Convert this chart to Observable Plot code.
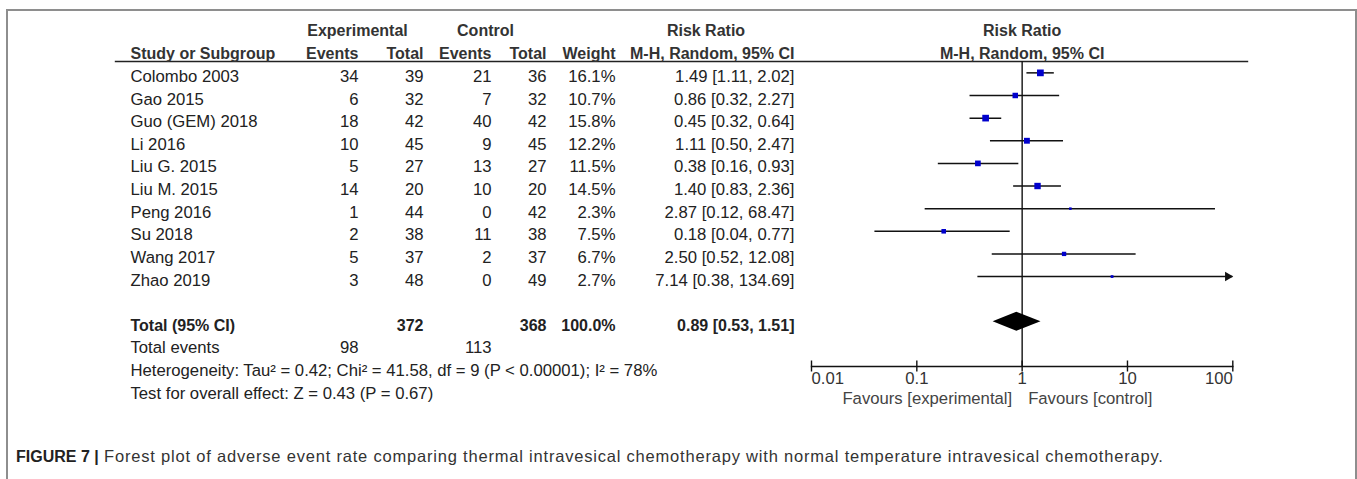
<!DOCTYPE html>
<html>
<head>
<meta charset="utf-8">
<script src="https://cdn.jsdelivr.net/npm/d3@7"></script>
<script src="https://cdn.jsdelivr.net/npm/@observablehq/plot@0.6"></script>
<style>
  html, body { margin: 0; padding: 0; background: #fff; width: 1357px; height: 479px; overflow: hidden; position: relative; font-family: "Liberation Sans", Arial, sans-serif; }
  #chart { position: absolute; left: 0; top: 0; }
  #box { position: absolute; left: 6px; top: 9px; width: 1351px; height: 520px; border: 2px solid #8e8e8e; box-sizing: border-box; z-index: 2; pointer-events: none; }
  #caption { position: absolute; left: 16px; top: 447px; font-size: 16.5px; color: #333; white-space: nowrap; font-family: "Liberation Sans", Arial, sans-serif; letter-spacing: 0.8px; }
  #caption b { color: #222; font-size: 16px; letter-spacing: 0; }
</style>
</head>
<body>
<div id="chart"></div>
<div id="box"></div>
<div id="caption"><b>FIGURE 7 |</b> Forest plot of adverse event rate comparing thermal intravesical chemotherapy with normal temperature intravesical chemotherapy.</div>
<script>
// ---------- data ----------
const studies   = ["Colombo 2003", "Gao 2015", "Guo (GEM) 2018", "Li 2016", "Liu G. 2015", "Liu M. 2015", "Peng 2016", "Su 2018", "Wang 2017", "Zhao 2019"];
const expEvents = [34, 6, 18, 10, 5, 14, 1, 2, 5, 3];
const expTotal  = [39, 32, 42, 45, 27, 20, 44, 38, 37, 48];
const ctlEvents = [21, 7, 40, 9, 13, 10, 0, 11, 2, 0];
const ctlTotal  = [36, 32, 42, 45, 27, 20, 42, 38, 37, 49];
const weights   = [16.1, 10.7, 15.8, 12.2, 11.5, 14.5, 2.3, 7.5, 6.7, 2.7];
const riskRatio = [1.49, 0.86, 0.45, 1.11, 0.38, 1.40, 2.87, 0.18, 2.50, 7.14];
const ciLower   = [1.11, 0.32, 0.32, 0.50, 0.16, 0.83, 0.12, 0.04, 0.52, 0.38];
const ciUpper   = [2.02, 2.27, 0.64, 2.47, 0.93, 2.36, 68.47, 0.77, 12.08, 134.69];

const totalLabel = "Total (95% CI)";
const totalExpN = 372, totalCtlN = 368, totalWeight = 100.0;
const totalRR = 0.89, totalLower = 0.53, totalUpper = 1.51;
const totalEventsLabel = "Total events";
const totalExpEvents = 98, totalCtlEvents = 113;
const heterogeneityText = "Heterogeneity: Tau\u00b2 = 0.42; Chi\u00b2 = 41.58, df = 9 (P < 0.00001); I\u00b2 = 78%";
const overallEffectText = "Test for overall effect: Z = 0.43 (P = 0.67)";

const axisTicks  = [0.01, 0.1, 1, 10, 100];
const tickLabels = ["0.01", "0.1", "1", "10", "100"];
const favoursLeft = "Favours [experimental]";
const favoursRight = "Favours [control]";

const header1 = ["Experimental", "Control", "Risk Ratio"];
const header2 = ["Study or Subgroup", "Events", "Total", "Events", "Total", "Weight", "M-H, Random, 95% CI"];
const forestHeader = ["Risk Ratio", "M-H, Random, 95% CI"];

// ---------- layout ----------
const W = 1357, H = 420;
const ML = 811, MR = W - 1232.3, MT = 61, MB = H - 366;
const ROW = {hdr1: 0, hdr2: 1, study0: 2, total: 13, events: 14, het: 15, test: 16};
const COL = {study: 130, expEv: 358, expTot: 423, ctlEv: 491, ctlTot: 546, weight: 615, ci: 794,
             expHdr: 357, ctlHdr: 485, rrHdr: 705.5};
const RULE_L = 115, RULE_R = 1247;
const FS = 16.7, FSB = 16;
const TXT = "#222";
const MARK_DY = -3.7;

const fmt2 = v => v.toFixed(2);
const ciText = (r, l, u) => `${fmt2(r)} [${fmt2(l)}, ${fmt2(u)}]`;

const rows = studies.map((s, i) => ({
  study: s, ev1: expEvents[i], n1: expTotal[i], ev2: ctlEvents[i], n2: ctlTotal[i],
  w: weights[i], rr: riskRatio[i], lo: ciLower[i], hi: ciUpper[i], row: ROW.study0 + i
}));
const [xMin, xMax] = d3.extent(axisTicks);

const txt = (data, {text, y, x, anchor = "start", bold = false, fill = TXT, ...rest}) =>
  Plot.text(data, {text, y, frameAnchor: "left", dx: x - ML, textAnchor: anchor,
    fontSize: bold ? FSB : FS, fontWeight: bold ? "bold" : "normal", fill, ...rest});

const one = v => [v];

// diamond points for the pooled estimate
const dh = 0.42;
const diamond = [
  {y: ROW.total - dh, x1: totalRR, x2: totalRR},
  {y: ROW.total, x1: totalLower, x2: totalUpper},
  {y: ROW.total + dh, x1: totalRR, x2: totalRR}
];

const hdr1X = [COL.expHdr, COL.ctlHdr, COL.rrHdr];
const hdr2X = [COL.study, COL.expEv, COL.expTot, COL.ctlEv, COL.ctlTot, COL.weight, COL.ci];
const hdr2A = ["start", "end", "end", "end", "end", "end", "end"];

const marks = [
  // header rule
  Plot.frame({anchor: "top", insetLeft: RULE_L - ML, insetRight: -(RULE_R - (W - MR)), stroke: "#222", strokeWidth: 1.4}),
  // header row 1
  ...header1.map((h, i) => txt(one(h), {text: d => d, y: () => ROW.hdr1, x: hdr1X[i], anchor: "middle", bold: true, fill: "#333"})),
  // header row 2
  ...header2.map((h, i) => txt(one(h), {text: d => d, y: () => ROW.hdr2, x: hdr2X[i], anchor: hdr2A[i], bold: true, fill: "#333"})),
  // forest header
  Plot.text(one(forestHeader[0]), {text: d => d, x: () => 1, y: () => ROW.hdr1, textAnchor: "middle", fontSize: FSB, fontWeight: "bold", fill: "#333"}),
  Plot.text(one(forestHeader[1]), {text: d => d, x: () => 1, y: () => ROW.hdr2, textAnchor: "middle", fontSize: FSB, fontWeight: "bold", fill: "#333"}),
  // study rows
  txt(rows, {text: "study", y: "row", x: COL.study}),
  txt(rows, {text: "ev1", y: "row", x: COL.expEv, anchor: "end"}),
  txt(rows, {text: "n1", y: "row", x: COL.expTot, anchor: "end"}),
  txt(rows, {text: "ev2", y: "row", x: COL.ctlEv, anchor: "end"}),
  txt(rows, {text: "n2", y: "row", x: COL.ctlTot, anchor: "end"}),
  txt(rows, {text: d => d.w.toFixed(1) + "%", y: "row", x: COL.weight, anchor: "end"}),
  txt(rows, {text: d => ciText(d.rr, d.lo, d.hi), y: "row", x: COL.ci, anchor: "end"}),
  // total row
  txt(one(totalLabel), {text: d => d, y: () => ROW.total, x: COL.study, bold: true}),
  txt(one(totalExpN), {text: d => d, y: () => ROW.total, x: COL.expTot, anchor: "end", bold: true}),
  txt(one(totalCtlN), {text: d => d, y: () => ROW.total, x: COL.ctlTot, anchor: "end", bold: true}),
  txt(one(totalWeight), {text: d => d.toFixed(1) + "%", y: () => ROW.total, x: COL.weight, anchor: "end", bold: true}),
  txt(one(totalRR), {text: () => ciText(totalRR, totalLower, totalUpper), y: () => ROW.total, x: COL.ci, anchor: "end", bold: true}),
  // total events
  txt(one(totalEventsLabel), {text: d => d, y: () => ROW.events, x: COL.study}),
  txt(one(totalExpEvents), {text: d => d, y: () => ROW.events, x: COL.expEv, anchor: "end"}),
  txt(one(totalCtlEvents), {text: d => d, y: () => ROW.events, x: COL.ctlEv, anchor: "end"}),
  // heterogeneity & overall effect
  txt(one(heterogeneityText), {text: d => d, y: () => ROW.het, x: COL.study}),
  txt(one(overallEffectText), {text: d => d, y: () => ROW.test, x: COL.study}),
  // line of no effect
  Plot.ruleX([1], {stroke: "#111", strokeWidth: 1.4}),
  // x axis line
  Plot.frame({anchor: "bottom", stroke: "#111", strokeWidth: 1.4}),
  Plot.axisX(axisTicks, {anchor: "bottom", tickSize: 11, dy: -5.5, fill: "none", stroke: "#111", strokeWidth: 1.4}),
  // tick labels
  Plot.text(axisTicks.slice(0, 1), {x: d => d, text: () => tickLabels[0], frameAnchor: "bottom", dy: 17, textAnchor: "start", fontSize: FS, fill: "#333"}),
  Plot.text(axisTicks.slice(1, -1), {x: d => d, text: d => tickLabels[axisTicks.indexOf(d)], frameAnchor: "bottom", dy: 17, textAnchor: "middle", fontSize: FS, fill: "#333"}),
  Plot.text(axisTicks.slice(-1), {x: d => d, text: () => tickLabels[tickLabels.length - 1], frameAnchor: "bottom", dy: 17, textAnchor: "end", fontSize: FS, fill: "#333"}),
  // favours labels
  Plot.text(one(favoursLeft), {x: () => 1, text: d => d, frameAnchor: "bottom", dy: 37, dx: -10, textAnchor: "end", fontSize: FS, fill: "#444"}),
  Plot.text(one(favoursRight), {x: () => 1, text: d => d, frameAnchor: "bottom", dy: 37, dx: 6, textAnchor: "start", fontSize: FS, fill: "#444"}),
  // confidence intervals
  Plot.ruleY(rows, {y: "row", x1: "lo", x2: d => Math.min(d.hi, xMax), dy: MARK_DY, stroke: "#111", strokeWidth: 1.5}),
  // arrows for truncated intervals
  Plot.dot(rows.filter(d => d.hi > xMax), {x: d => Math.min(d.hi, xMax), y: "row", symbol: "triangle", rotate: 90, r: 3.5, dx: -5, dy: MARK_DY, fill: "#111", stroke: "none"}),
  // study squares
  Plot.dot(rows, {x: "rr", y: "row", r: "w", symbol: "square", fill: "#0000cc", stroke: "none", dy: MARK_DY}),
  // pooled diamond
  Plot.areaX(diamond, {y: "y", x1: "x1", x2: "x2", fill: "#000", curve: "linear", dy: MARK_DY})
];

const chart = Plot.plot({
  width: W, height: H,
  marginLeft: ML, marginRight: MR, marginTop: MT, marginBottom: MB,
  style: {fontFamily: "'Liberation Sans', Arial, sans-serif", background: "transparent", overflow: "visible"},
  x: {type: "log", domain: [xMin, xMax], axis: null},
  y: {type: "linear", domain: [0, 16], range: [30.8, 392.9], axis: null},
  r: {type: "sqrt", domain: [0, d3.max(weights)], range: [0, 3.8]},
  marks
});
document.getElementById("chart").appendChild(chart);
</script>
</body>
</html>
